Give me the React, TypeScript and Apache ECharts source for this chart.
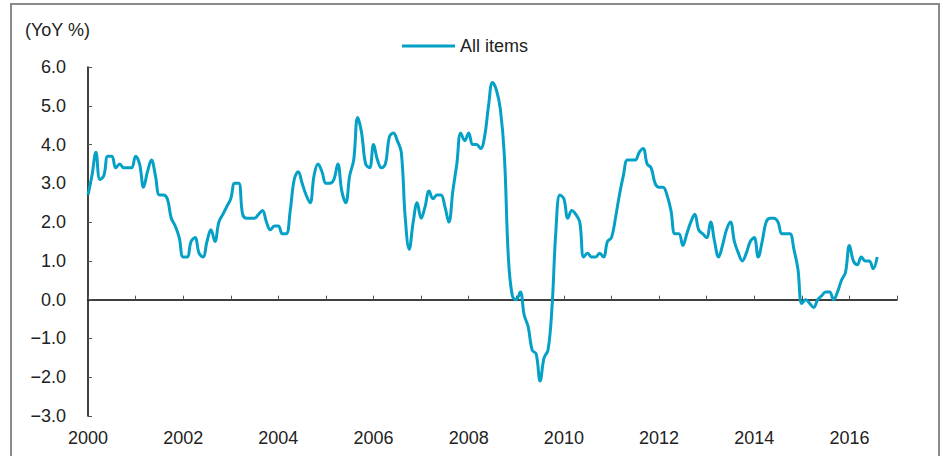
import React, { useEffect, useRef } from "react";
import * as echarts from "echarts";

// Monthly CPI, All items, YoY % (Jan..Dec)
const cpi2000 = [2.7, 3.2, 3.8, 3.1, 3.2, 3.7, 3.7, 3.4, 3.5, 3.4, 3.4, 3.4];
const cpi2001 = [3.7, 3.5, 2.9, 3.3, 3.6, 3.2, 2.7, 2.7, 2.6, 2.1, 1.9, 1.6];
const cpi2002 = [1.1, 1.1, 1.5, 1.6, 1.2, 1.1, 1.5, 1.8, 1.5, 2.0, 2.2, 2.4];
const cpi2003 = [2.6, 3.0, 3.0, 2.2, 2.1, 2.1, 2.1, 2.2, 2.3, 2.0, 1.8, 1.9];
const cpi2004 = [1.9, 1.7, 1.7, 2.3, 3.1, 3.3, 3.0, 2.7, 2.5, 3.2, 3.5, 3.3];
const cpi2005 = [3.0, 3.0, 3.1, 3.5, 2.8, 2.5, 3.2, 3.6, 4.7, 4.3, 3.5, 3.4];
const cpi2006 = [4.0, 3.6, 3.4, 3.5, 4.2, 4.3, 4.1, 3.8, 2.1, 1.3, 2.0, 2.5];
const cpi2007 = [2.1, 2.4, 2.8, 2.6, 2.7, 2.7, 2.4, 2.0, 2.8, 3.5, 4.3, 4.1];
const cpi2008 = [4.3, 4.0, 4.0, 3.9, 4.2, 5.0, 5.6, 5.4, 4.9, 3.7, 1.1, 0.1];
const cpi2009 = [0.0, 0.2, -0.4, -0.7, -1.3, -1.4, -2.1, -1.5, -1.3, -0.2, 1.8, 2.7];
const cpi2010 = [2.6, 2.1, 2.3, 2.2, 2.0, 1.1, 1.2, 1.1, 1.1, 1.2, 1.1, 1.5];
const cpi2011 = [1.6, 2.1, 2.7, 3.2, 3.6, 3.6, 3.6, 3.8, 3.9, 3.5, 3.4, 3.0];
const cpi2012 = [2.9, 2.9, 2.7, 2.3, 1.7, 1.7, 1.4, 1.7, 2.0, 2.2, 1.8, 1.7];
const cpi2013 = [1.6, 2.0, 1.5, 1.1, 1.4, 1.8, 2.0, 1.5, 1.2, 1.0, 1.2, 1.5];
const cpi2014 = [1.6, 1.1, 1.5, 2.0, 2.1, 2.1, 2.0, 1.7, 1.7, 1.7, 1.3, 0.8];
const cpi2015 = [-0.1, 0.0, -0.1, -0.2, 0.0, 0.1, 0.2, 0.2, 0.0, 0.2, 0.5, 0.7];
const cpi2016 = [1.4, 1.0, 0.9, 1.1, 1.0, 1.0, 0.8, 1.1];

const yearlySeries: [number, number[]][] = [
  [2000, cpi2000], [2001, cpi2001], [2002, cpi2002], [2003, cpi2003],
  [2004, cpi2004], [2005, cpi2005], [2006, cpi2006], [2007, cpi2007],
  [2008, cpi2008], [2009, cpi2009], [2010, cpi2010], [2011, cpi2011],
  [2012, cpi2012], [2013, cpi2013], [2014, cpi2014], [2015, cpi2015],
  [2016, cpi2016],
];

const seriesName = "All items";
const yAxisTitle = "(YoY %)";
const xMin = 2000;
const xMax = 2017;
const yMin = -3;
const yMax = 6;

const FONT = "Liberation Sans";
const FONT_SIZE = 18;
const TEXT_COLOR = "#222222";
const LINE_COLOR = "#05a0c6";

export default function App() {
  const ref = useRef<HTMLDivElement>(null);

  useEffect(() => {
    if (!ref.current) return;
    const chart = echarts.init(ref.current, undefined, { renderer: "svg" });

    const data: [number, number][] = [];
    yearlySeries.forEach(([year, vals]) => {
      vals.forEach((v, m) => data.push([year + m / 12, v]));
    });

    const fmtY = (v: number) =>
      v < 0 ? "\u2212" + Math.abs(v).toFixed(1) : v.toFixed(1);

    chart.setOption({
      animation: false,
      backgroundColor: "#ffffff",
      textStyle: { fontFamily: FONT },
      title: {
        text: yAxisTitle,
        left: 20,
        top: 16,
        textStyle: { fontFamily: FONT, fontSize: FONT_SIZE, fontWeight: "normal", color: TEXT_COLOR },
      },
      legend: {
        left: 397,
        top: 32,
        icon: "rect",
        itemWidth: 53,
        itemHeight: 3,
        textStyle: { fontFamily: FONT, fontSize: FONT_SIZE, color: TEXT_COLOR },
        data: [seriesName],
      },
      graphic: [
        {
          type: "rect",
          shape: { x: 11, y: 4, width: 928, height: 520 },
          style: { fill: "none", stroke: "#8a8a8a", lineWidth: 2 },
          silent: true,
        },
      ],
      grid: {
        left: 88,
        right: 44,
        top: 67,
        bottom: 40,
        containLabel: false,
        outerBoundsMode: "none",
      },
      xAxis: [
        {
          type: "value",
          min: xMin,
          max: xMax,
          interval: 1,
          axisLine: { onZero: true, lineStyle: { color: "#000", width: 1.5 } },
          axisTick: { show: true, inside: true, length: 4, lineStyle: { color: "#555", width: 1 } },
          axisLabel: { show: false },
          splitLine: { show: false },
        },
        {
          type: "value",
          position: "bottom",
          min: xMin,
          max: xMax,
          interval: 1,
          axisLine: { show: false, onZero: false },
          axisTick: { show: false },
          axisLabel: {
            show: true,
            margin: 13,
            fontFamily: FONT,
            fontSize: FONT_SIZE,
            color: TEXT_COLOR,
            formatter: (v: number) => (v % 2 === 0 && v < xMax ? String(v) : ""),
          },
          splitLine: { show: false },
        },
      ],
      yAxis: {
        type: "value",
        min: yMin,
        max: yMax,
        interval: 1,
        axisLine: { show: true, onZero: false, lineStyle: { color: "#000", width: 1.5 } },
        axisTick: { show: true, inside: true, length: 4, lineStyle: { color: "#555", width: 1 } },
        axisLabel: {
          margin: 22,
          fontFamily: FONT,
          fontSize: FONT_SIZE,
          color: TEXT_COLOR,
          formatter: fmtY,
        },
        splitLine: { show: false },
      },
      series: [
        {
          name: seriesName,
          type: "line",
          xAxisIndex: 0,
          data,
          smooth: 0.4,
          showSymbol: false,
          symbol: "none",
          lineStyle: { color: LINE_COLOR, width: 3 },
          itemStyle: { color: LINE_COLOR },
        },
      ],
    });

    return () => chart.dispose();
  }, []);

  return (
    <div
      ref={ref}
      style={{ position: "absolute", left: 0, top: 0, width: 941, height: 456 }}
    />
  );
}
